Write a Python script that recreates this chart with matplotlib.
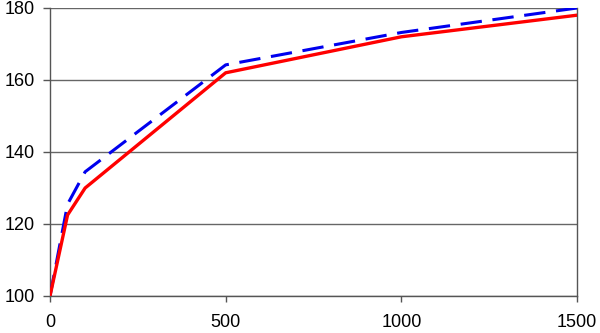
import matplotlib.pyplot as plt

x = [0, 50, 100, 500, 1000, 1500]
red = [100, 122.5, 130, 162, 172, 178]
blue = [100, 125.5, 134.5, 164.2, 173.2, 180]

plt.rcParams['font.family'] = ['Liberation Sans', 'DejaVu Sans']

fig = plt.figure(figsize=(6, 3.33), dpi=100)
ax = fig.add_axes([50/600, 1 - 296/333, 527/600, 288/333])

ax.plot(x, blue, color='#0000ee', lw=2.2, dashes=(7, 3.5), zorder=3)
ax.plot(x, red, color='#ff0000', lw=2.4, zorder=4)

ax.set_xlim(0, 1500)
ax.set_ylim(100, 180)
ax.set_xticks([0, 500, 1000, 1500])
ax.set_yticks([100, 120, 140, 160, 180])
ax.grid(axis='y', color='#666666', lw=1)
ax.set_axisbelow(True)

for s in ax.spines.values():
    s.set_color('#555555')
    s.set_linewidth(1)
ax.spines['top'].set_visible(False)

ax.tick_params(colors='#555555', width=1, labelsize=13, labelcolor='black')
ax.tick_params(axis='x', length=4, pad=9)
ax.tick_params(axis='y', length=5, pad=6)

fig.savefig('out.png')
